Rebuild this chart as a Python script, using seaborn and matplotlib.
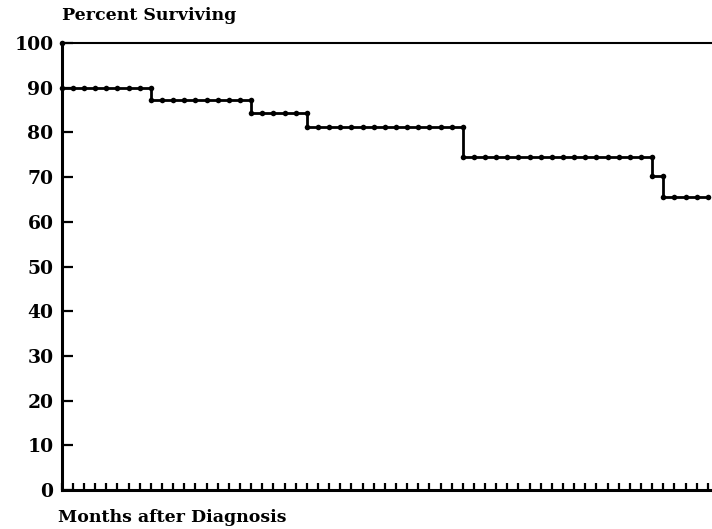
import matplotlib

matplotlib.use("Agg")
import matplotlib.pyplot as plt
import pandas as pd
import seaborn as sns
from matplotlib.ticker import MultipleLocator

# survival estimate (percent) after each event, and the month it happens
event_months = [0, 8, 17, 22, 36, 53, 54]
survival_pct = [90.0, 87.2, 84.3, 81.3, 74.6, 70.3, 65.5]
start_pct = 100.0
last_month = 58
y_ticks = [0, 10, 20, 30, 40, 50, 60, 70, 80, 90, 100]

# curve sampled at every month tick, with both levels at each drop
rows = [(0, start_pct)]
level = start_pct
for m in range(0, last_month + 1):
    if m in event_months:
        if m > 0:
            rows.append((m, level))
        level = survival_pct[event_months.index(m)]
    rows.append((m, level))
curve = pd.DataFrame(rows, columns=["month", "pct"])

sns.set_theme(style="white")
plt.rcParams["font.family"] = ["DejaVu Serif"]
plt.rcParams["text.color"] = "black"

fig = plt.figure(figsize=(7.12, 5.29), dpi=100)
ax = fig.add_axes([0.0867, 0.0737, 0.9133, 0.845])

sns.lineplot(
    data=curve,
    x="month",
    y="pct",
    sort=False,
    estimator=None,
    color="black",
    linewidth=2.0,
    marker="o",
    markersize=4,
    markeredgewidth=0,
    ax=ax,
    clip_on=False,
)

ax.set_xlim(0, 58.37)
ax.set_ylim(0, 100)
ax.set_yticks(y_ticks)
ax.xaxis.set_major_locator(MultipleLocator(1))
ax.tick_params(axis="x", bottom=True, direction="in", length=5, width=1.6,
               labelbottom=False, color="black")
ax.tick_params(axis="y", left=True, direction="in", length=8, width=1.6, pad=6,
               color="black", labelsize=13.5, labelcolor="black")
for lbl in ax.get_yticklabels():
    lbl.set_fontweight("bold")

for side in ["left", "bottom"]:
    ax.spines[side].set_linewidth(2.2)
    ax.spines[side].set_color("black")
ax.spines["top"].set_linewidth(1.5)
ax.spines["top"].set_color("black")
ax.spines["right"].set_visible(False)

ax.set_xlabel("")
ax.set_ylabel("")

fig.text(0.087, 1 - 15 / 529, "Percent Surviving", fontsize=12.5, fontweight="bold",
         ha="left", va="center", color="black")
fig.text(0.082, 1 - 517 / 529, "Months after Diagnosis", fontsize=12.5, fontweight="bold",
         ha="left", va="center", color="black")

fig.savefig("out.png", dpi=100)
